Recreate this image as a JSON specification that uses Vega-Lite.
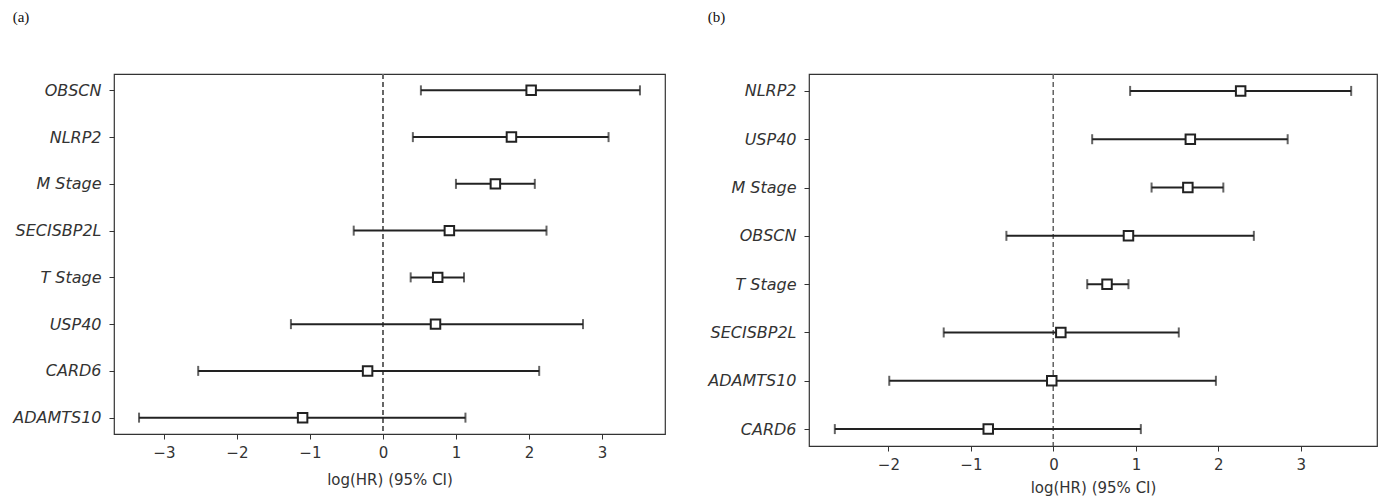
{
  "$schema": "https://vega.github.io/schema/vega-lite/v6.json",
  "padding": {"left": 12, "top": 8, "right": 0, "bottom": 0},
  "background": "white",
  "bounds": "flush",
  "spacing": 144,
  "datasets": {
    "a": [
      {"var": "OBSCN", "lo": 0.52, "hr": 2.03, "hi": 3.52},
      {"var": "NLRP2", "lo": 0.41, "hr": 1.76, "hi": 3.09},
      {"var": "M Stage", "lo": 1.0, "hr": 1.54, "hi": 2.08},
      {"var": "SECISBP2L", "lo": -0.4, "hr": 0.91, "hi": 2.24},
      {"var": "T Stage", "lo": 0.38, "hr": 0.75, "hi": 1.11},
      {"var": "USP40", "lo": -1.26, "hr": 0.72, "hi": 2.74},
      {"var": "CARD6", "lo": -2.53, "hr": -0.21, "hi": 2.14},
      {"var": "ADAMTS10", "lo": -3.34, "hr": -1.1, "hi": 1.13}
    ],
    "b": [
      {"var": "NLRP2", "lo": 0.93, "hr": 2.27, "hi": 3.61},
      {"var": "USP40", "lo": 0.47, "hr": 1.66, "hi": 2.84},
      {"var": "M Stage", "lo": 1.19, "hr": 1.63, "hi": 2.06},
      {"var": "OBSCN", "lo": -0.57, "hr": 0.91, "hi": 2.43},
      {"var": "T Stage", "lo": 0.41, "hr": 0.65, "hi": 0.91},
      {"var": "SECISBP2L", "lo": -1.33, "hr": 0.09, "hi": 1.52},
      {"var": "ADAMTS10", "lo": -1.99, "hr": -0.02, "hi": 1.97},
      {"var": "CARD6", "lo": -2.65, "hr": -0.79, "hi": 1.06}
    ]
  },
  "config": {
    "view": {"stroke": "#333", "strokeWidth": 1.2},
    "font": "DejaVu Sans",
    "axis": {
      "grid": false, "domain": false, "tickColor": "#333", "tickSize": 5, "tickWidth": 1,
      "labelColor": "#333", "labelFont": "DejaVu Sans", "labelFontSize": 15,
      "titleColor": "#333", "titleFont": "DejaVu Sans", "titleFontSize": 15, "titleFontWeight": "normal"
    },
    "axisY": {"labelFontStyle": "italic", "labelPadding": 8, "labelFontSize": 16},
    "axisX": {"labelPadding": 6, "titlePadding": 12, "format": "d"},
    "title": {"font": "Liberation Serif", "fontSize": 15, "fontWeight": "normal", "anchor": "start", "frame": "bounds", "color": "#111", "offset": 49}
  },
  "hconcat": [
    {
      "title": "(a)",
      "width": 551, "height": 360,
      "data": {"name": "a"},
      "encoding": {
        "y": {"field": "var", "type": "nominal", "title": null,
              "scale": {"type": "point", "padding": 0.35, "domain": ["OBSCN", "NLRP2", "M Stage", "SECISBP2L", "T Stage", "USP40", "CARD6", "ADAMTS10"]}}
      },
      "layer": [
        {"mark": {"type": "rule", "color": "#666", "strokeDash": [5, 3], "strokeWidth": 1},
         "encoding": {"x": {"datum": 0, "type": "quantitative"}, "y": null}},
        {"mark": {"type": "rule", "color": "#222", "strokeWidth": 2},
         "encoding": {
           "x": {"field": "lo", "type": "quantitative", "title": "log(HR) (95% CI)",
                 "scale": {"domain": [-3.683, 3.863], "nice": false, "zero": false},
                 "axis": {"values": [-3, -2, -1, 0, 1, 2, 3]}},
           "x2": {"field": "hi"}}},
        {"mark": {"type": "tick", "color": "#222", "thickness": 2, "size": 10}, "encoding": {"x": {"field": "lo", "type": "quantitative"}}},
        {"mark": {"type": "tick", "color": "#222", "thickness": 2, "size": 10}, "encoding": {"x": {"field": "hi", "type": "quantitative"}}},
        {"mark": {"type": "point", "shape": "square", "size": 90, "filled": true, "fill": "white", "stroke": "#222", "strokeWidth": 2, "opacity": 1},
         "encoding": {"x": {"field": "hr", "type": "quantitative"}}}
      ]
    },
    {
      "title": "(b)",
      "width": 568, "height": 372,
      "data": {"name": "b"},
      "encoding": {
        "y": {"field": "var", "type": "nominal", "title": null,
              "scale": {"type": "point", "padding": 0.35, "domain": ["NLRP2", "USP40", "M Stage", "OBSCN", "T Stage", "SECISBP2L", "ADAMTS10", "CARD6"]}}
      },
      "layer": [
        {"mark": {"type": "rule", "color": "#666", "strokeDash": [5, 3], "strokeWidth": 1},
         "encoding": {"x": {"datum": 0, "type": "quantitative"}, "y": null}},
        {"mark": {"type": "rule", "color": "#222", "strokeWidth": 2},
         "encoding": {
           "x": {"field": "lo", "type": "quantitative", "title": "log(HR) (95% CI)",
                 "scale": {"domain": [-2.963, 3.923], "nice": false, "zero": false},
                 "axis": {"values": [-2, -1, 0, 1, 2, 3], "titlePadding": 8}},
           "x2": {"field": "hi"}}},
        {"mark": {"type": "tick", "color": "#222", "thickness": 2, "size": 10}, "encoding": {"x": {"field": "lo", "type": "quantitative"}}},
        {"mark": {"type": "tick", "color": "#222", "thickness": 2, "size": 10}, "encoding": {"x": {"field": "hi", "type": "quantitative"}}},
        {"mark": {"type": "point", "shape": "square", "size": 90, "filled": true, "fill": "white", "stroke": "#222", "strokeWidth": 2, "opacity": 1},
         "encoding": {"x": {"field": "hr", "type": "quantitative"}}}
      ]
    }
  ]
}
